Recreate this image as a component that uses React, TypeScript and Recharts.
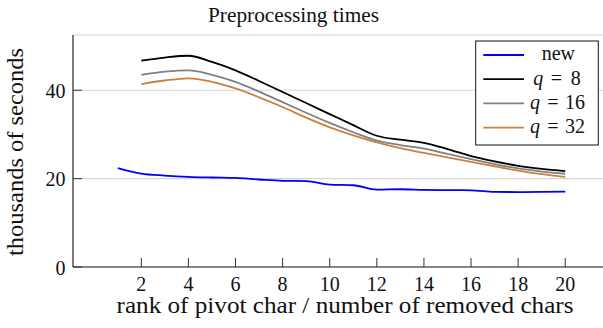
import React from "react";
import { LineChart, Line, XAxis, YAxis, CartesianGrid } from "recharts";

const ranks = [1, 2, 3, 4, 5, 6, 7, 8, 9, 10, 11, 12, 13, 14, 15, 16, 17, 18, 19, 20];
const newTimes = [22.4, 21.15, 20.7, 20.4, 20.25, 20.15, 19.8, 19.5, 19.45, 18.65, 18.5, 17.5, 17.6, 17.45, 17.4, 17.35, 17.0, 16.95, 17.0, 17.05];
const q8Times = [null, 46.7, 47.4, 47.8, 46.4, 44.5, 42.1, 39.6, 37.1, 34.6, 32.1, 29.7, 28.8, 28.1, 26.7, 25.1, 23.9, 22.9, 22.2, 21.7];
const q16Times = [null, 43.5, 44.2, 44.5, 43.5, 41.9, 39.7, 37.3, 34.9, 32.6, 30.5, 28.6, 27.6, 26.8, 25.6, 24.4, 23.3, 22.3, 21.6, 21.1];
const q32Times = [null, 41.4, 42.2, 42.7, 41.9, 40.4, 38.4, 36.2, 33.8, 31.6, 29.8, 28.2, 26.9, 25.8, 24.8, 23.8, 22.8, 21.8, 21.0, 20.4];

const xTicks = [2, 4, 6, 8, 10, 12, 14, 16, 18, 20];
const yTicks = [0, 20, 40];
const title = "Preprocessing times";
const xLabel = "rank of pivot char / number of removed chars";
const yLabel = "thousands of seconds";

const data = ranks.map((r, i) => ({
  x: r,
  n: newTimes[i],
  q8: q8Times[i],
  q16: q16Times[i],
  q32: q32Times[i],
}));

const FONT = "'Liberation Serif', 'Times New Roman', serif";
const TICK = "#333";
const TL = 9;

const BottomTick = (p: any) => (
  <g>
    <line x1={p.x} x2={p.x} y1={p.y} y2={p.y - TL} stroke={TICK} strokeWidth={1} />
    <text x={p.x} y={p.y + 24} textAnchor="middle" fontSize={20} fill="#111" fontFamily={FONT}>
      {p.payload.value}
    </text>
  </g>
);
const TopTick = (p: any) => (
  <line x1={p.x} x2={p.x} y1={p.y} y2={p.y + TL} stroke={TICK} strokeWidth={1} />
);
const LeftTick = (p: any) => (
  <g>
    <line x1={p.x} x2={p.x + TL} y1={p.y} y2={p.y} stroke={TICK} strokeWidth={1} />
    <text x={p.x - 7.5} y={p.y + 7.5} textAnchor="end" fontSize={20} fill="#111" fontFamily={FONT}>
      {p.payload.value}
    </text>
  </g>
);
const RightTick = (p: any) => (
  <line x1={p.x} x2={p.x - TL} y1={p.y} y2={p.y} stroke={TICK} strokeWidth={1} />
);

const series = [
  { key: "n", color: "#0000ff", label: "new" },
  { key: "q8", color: "#000000", label: "8" },
  { key: "q16", color: "#808080", label: "16" },
  { key: "q32", color: "#cc8040", label: "32" },
];

export default function App() {
  return (
    <div style={{ position: "absolute", left: 0, top: 0, width: 603, height: 328, overflow: "hidden", background: "#fff", fontFamily: FONT }}>
      <LineChart width={620} height={328} data={data} margin={{ top: 35, right: 10, bottom: 0, left: 0 }}>
        <CartesianGrid vertical={false} stroke="#d6d6d6" strokeWidth={1.2} />
        <XAxis
          dataKey="x"
          type="number"
          domain={[-0.9, 21.9]}
          allowDataOverflow
          ticks={xTicks}
          height={61}
          tickSize={0}
          tickMargin={0}
          tickLine={false}
          tick={BottomTick}
          axisLine={{ stroke: "#222", strokeWidth: 1.2 }}
        />
        <XAxis
          xAxisId="top"
          orientation="top"
          dataKey="x"
          type="number"
          domain={[-0.9, 21.9]}
          allowDataOverflow
          ticks={xTicks}
          height={0}
          tickSize={0}
          tickMargin={0}
          tickLine={false}
          tick={TopTick}
          axisLine={{ stroke: "#222", strokeWidth: 1.2 }}
        />
        <YAxis
          type="number"
          domain={[0, 52.5]}
          allowDataOverflow
          ticks={yTicks}
          width={73}
          tickSize={0}
          tickMargin={0}
          tickLine={false}
          tick={LeftTick}
          axisLine={{ stroke: "#222", strokeWidth: 1.2 }}
        />
        <YAxis
          yAxisId="right"
          orientation="right"
          type="number"
          domain={[0, 52.5]}
          allowDataOverflow
          ticks={yTicks}
          width={0}
          tickSize={0}
          tickMargin={0}
          tickLine={false}
          tick={RightTick}
          axisLine={{ stroke: "#222", strokeWidth: 1.2 }}
        />
        {series.map((s) => (
          <Line
            key={s.key}
            dataKey={s.key}
            type="monotone"
            stroke={s.color}
            strokeWidth={1.8}
            dot={false}
            isAnimationActive={false}
          />
        ))}
        <text x={293.5} y={21.7} textAnchor="middle" fontSize={20} fill="#111" fontFamily={FONT} textLength={171} lengthAdjust="spacingAndGlyphs">
          {title}
        </text>
        <text x={345} y={313.3} textAnchor="middle" fontSize={23} fill="#111" fontFamily={FONT} textLength={457} lengthAdjust="spacingAndGlyphs">
          {xLabel}
        </text>
        <text transform="translate(23.3,152) rotate(-90)" x={0} y={0} textAnchor="middle" fontSize={23} fill="#111" fontFamily={FONT} textLength={208} lengthAdjust="spacingAndGlyphs">
          {yLabel}
        </text>
        <g>
          <rect x={475.7} y={41} width={122.6} height={104} fill="#fff" stroke="#111" strokeWidth={1} />
          {series.map((s, i) => {
            const cy = 55 + i * 24.2;
            const qx = i === 1 ? 533.3 : 530;
            const ex = i === 1 ? 550.7 : 547.3;
            const nx = i === 1 ? 570.7 : 565;
            return (
              <g key={s.key}>
                <line x1={483.3} x2={524} y1={cy} y2={cy} stroke={s.color} strokeWidth={1.8} />
                {i === 0 ? (
                  <text x={558.3} y={cy + 4.5} textAnchor="middle" fontSize={20} fill="#111" fontFamily={FONT}>
                    {s.label}
                  </text>
                ) : (
                  <text y={cy + 5.5} fontSize={20} fill="#111" fontFamily={FONT}>
                    <tspan x={qx} fontStyle="italic">q</tspan>
                    <tspan x={ex}>=</tspan>
                    <tspan x={nx}>{s.label}</tspan>
                  </text>
                )}
              </g>
            );
          })}
        </g>
      </LineChart>
    </div>
  );
}
